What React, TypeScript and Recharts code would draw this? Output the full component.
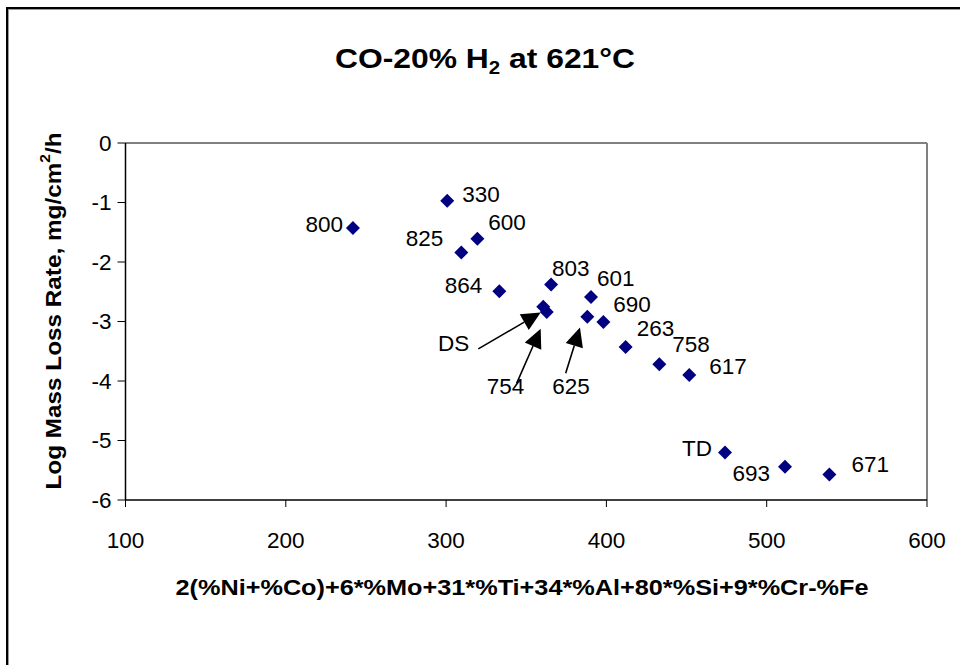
import { ScatterChart, Scatter, XAxis, YAxis, ReferenceLine } from 'recharts';

// alloy designations, in the order
const alloys = ['800', '330', '825', '600', '864', '803', '601', 'DS', '754', '625', '690', '263', '758', '617', 'TD', '693', '671'];
// 2(%Ni+%Co)+6*%Mo+31*%Ti+34*%Al+80*%Si+9*%Cr-%Fe
const compositionIndex = [241.9, 300.7, 309.5, 319.5, 333.2, 365.5, 390.4, 360.6, 362.8, 388.1, 398.1, 412.0, 433.0, 451.7, 474.0, 511.4, 539.1];
// log mass loss rate, mg/cm2/h
const logLossRate = [-1.43, -0.97, -1.84, -1.61, -2.49, -2.38, -2.59, -2.75, -2.84, -2.92, -3.01, -3.43, -3.72, -3.9, -5.2, -5.44, -5.57];

const xTicks = [100, 200, 300, 400, 500, 600];
const yTicks = [0, -1, -2, -3, -4, -5, -6];

// callout arrows (DS, 754, 625), tail -> tip in data units
const arrowTailX = [320.1, 344.0, 374.6];
const arrowTailY = [-3.46, -4.04, -3.87];
const arrowTipX = [359.0, 359.0, 383.5];
const arrowTipY = [-2.85, -3.12, -3.1];

const points = alloys.map((name, i) => ({ name, x: compositionIndex[i], y: logLossRate[i] }));

// label offset from its marker: dx, dy, text-anchor
const labelPlacement: Record<string, [number, number, string]> = {
  '800': [-10, -4, 'end'],
  '330': [15, -6, 'start'],
  '825': [-18, -14, 'end'],
  '600': [11, -16, 'start'],
  '864': [-17, -6, 'end'],
  '803': [1, -16, 'start'],
  '601': [6, -19, 'start'],
  DS: [-74, 37, 'end'],
  '754': [-60, 75, 'start'],
  '625': [-35, 70, 'start'],
  '690': [10, -18, 'start'],
  '263': [11, -19, 'start'],
  '758': [13, -20, 'start'],
  '617': [20, -9, 'start'],
  TD: [-13, -4, 'end'],
  '693': [-15, 7, 'end'],
  '671': [22, -10, 'start'],
};

const FONT = '"Liberation Sans", Arial, Helvetica, sans-serif';

function Diamond(props: any) {
  const { cx, cy, payload } = props;
  if (cx == null || cy == null) return null;
  const [dx, dy, anchor] = labelPlacement[payload.name] || [10, 0, 'start'];
  const r = 7;
  return (
    <g>
      <polygon points={`${cx},${cy - r} ${cx + r},${cy} ${cx},${cy + r} ${cx - r},${cy}`} fill="#000080" />
      <text
        x={cx + dx}
        y={cy + dy}
        textAnchor={anchor as any}
        dominantBaseline="central"
        fontSize={22.5}
        fontFamily={FONT}
        fill="#000"
      >
        {payload.name}
      </text>
    </g>
  );
}

function Arrow(props: any) {
  const { x1, y1, x2, y2 } = props;
  if ([x1, y1, x2, y2].some((v) => v == null || isNaN(v))) return null;
  const len = Math.hypot(x2 - x1, y2 - y1);
  const ux = (x2 - x1) / len;
  const uy = (y2 - y1) / len;
  const hl = 19;
  const hw = 9;
  const bx = x2 - ux * hl;
  const by = y2 - uy * hl;
  return (
    <g>
      <line x1={x1} y1={y1} x2={bx} y2={by} stroke="#000" strokeWidth={1.6} />
      <polygon points={`${x2},${y2} ${bx - uy * hw},${by + ux * hw} ${bx + uy * hw},${by - ux * hw}`} fill="#000" />
    </g>
  );
}

export default function App() {
  return (
    <div style={{ position: 'absolute', left: 0, top: 0, width: 960, height: 665, overflow: 'hidden', background: '#fff' }}>
      <div
        style={{
          position: 'absolute',
          left: 6,
          top: 7,
          width: 980,
          height: 700,
          borderTop: '2px solid #000',
          borderLeft: '2px solid #000',
          boxShadow: 'inset 1px 1px 0 #999',
        }}
      />
      <div style={{ position: 'absolute', left: 0, top: 0 }}>
        <ScatterChart width={960} height={665} margin={{ top: 143, right: 33, bottom: 105, left: 65.5 }}>
          <XAxis
            type="number"
            dataKey="x"
            domain={[100, 600]}
            ticks={xTicks}
            interval={0}
            height={60}
            tickSize={7}
            tickMargin={25}
            axisLine={{ stroke: '#000', strokeWidth: 1.5 }}
            tickLine={{ stroke: '#000' }}
            tick={{ fill: '#000', fontSize: 22.5, fontFamily: FONT }}
          />
          <YAxis
            type="number"
            dataKey="y"
            domain={[-6, 0]}
            ticks={yTicks}
            interval={0}
            width={60}
            tickSize={8}
            tickMargin={6}
            axisLine={{ stroke: '#000', strokeWidth: 1.5 }}
            tickLine={{ stroke: '#000' }}
            tick={{ fill: '#000', fontSize: 22.5, fontFamily: FONT }}
          />
          <ReferenceLine y={0} stroke="#808080" strokeWidth={2} />
          <ReferenceLine x={600} stroke="#808080" strokeWidth={2} />
          {arrowTailX.map((tx, i) => (
            <ReferenceLine
              key={`arrow-${i}`}
              segment={[
                { x: tx, y: arrowTailY[i] },
                { x: arrowTipX[i], y: arrowTipY[i] },
              ]}
              shape={Arrow}
            />
          ))}
          <Scatter data={points} shape={Diamond} isAnimationActive={false} />
        </ScatterChart>
      </div>
      <svg width={960} height={665} style={{ position: 'absolute', left: 0, top: 0, pointerEvents: 'none' }}>
        <text
          x={485}
          y={58}
          textAnchor="middle"
          dominantBaseline="central"
          fontSize={28}
          fontWeight="bold"
          fontFamily={FONT}
          textLength={300}
          lengthAdjust="spacingAndGlyphs"
        >
          CO-20% H<tspan baselineShift="sub" fontSize={18}>2</tspan> at 621°C
        </text>
        <text
          x={522}
          y={587}
          textAnchor="middle"
          dominantBaseline="central"
          fontSize={22}
          fontWeight="bold"
          fontFamily={FONT}
          textLength={693}
          lengthAdjust="spacingAndGlyphs"
        >
          2(%Ni+%Co)+6*%Mo+31*%Ti+34*%Al+80*%Si+9*%Cr-%Fe
        </text>
        <text
          x={53}
          y={311}
          transform="rotate(-90, 53, 311)"
          textAnchor="middle"
          dominantBaseline="central"
          fontSize={22}
          fontWeight="bold"
          fontFamily={FONT}
          textLength={357}
          lengthAdjust="spacingAndGlyphs"
        >
          Log Mass Loss Rate, mg/cm<tspan baselineShift="super" fontSize={14}>2</tspan>/h
        </text>
      </svg>
    </div>
  );
}
